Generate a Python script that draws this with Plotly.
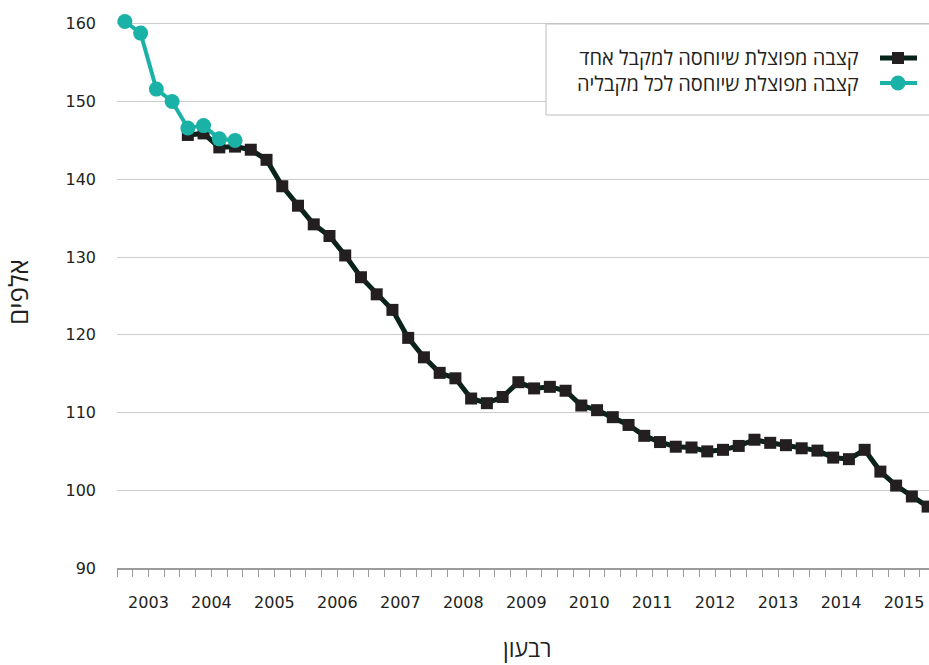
import plotly.graph_objects as go

# ---------------- data ----------------
years = list(range(2003, 2016))
quarters = [f"{y}Q{q}" for y in years for q in range(1, 5)]

# split pension attributed to all its recipients (2003Q1-2004Q4)
all_recipients = [160.3, 158.8, 151.6, 150.0, 146.6, 146.9, 145.2, 145.0]
# split pension attributed to a single recipient (2004Q1-2015Q4)
single_recipient = [
    145.7, 145.9, 144.1, 144.2,
    143.8, 142.5, 139.1, 136.6,
    134.2, 132.7, 130.2, 127.4,
    125.2, 123.2, 119.6, 117.1,
    115.1, 114.4, 111.8, 111.2,
    112.0, 113.9, 113.1, 113.3,
    112.8, 110.9, 110.3, 109.4,
    108.4, 107.0, 106.2, 105.6,
    105.5, 105.0, 105.2, 105.7,
    106.5, 106.1, 105.8, 105.4,
    105.1, 104.2, 104.0, 105.2,
    102.4, 100.6, 99.2, 97.9,
]
y_ticks = [90, 100, 110, 120, 130, 140, 150, 160]
name_single = "קצבה מפוצלת שיוחסה למקבל אחד"
name_all = "קצבה מפוצלת שיוחסה לכל מקבליה"
y_title = "אלפים"
x_title = "רבעון"

# ---------------- layout constants ----------------
W, H = 929, 665
L, R, T, B = 117, 929, 16, 568
TEAL = "#1ab2a6"
DARK_LINE = "#07231a"
DARK_MARK = "#231f20"
TEXT = "#231f20"
AXIS = "#9b9b9b"
GRID = "#cbcbcb"
FONT = "Open Sans, DejaVu Sans, sans-serif"
TICKFONT = "DejaVu Sans, sans-serif"

x_all = list(range(len(quarters)))
x_single = x_all[len(quarters) - len(single_recipient):]
x_teal = x_all[:len(all_recipients)]

fig = go.Figure()
fig.add_trace(go.Scatter(
    x=x_single, y=single_recipient, mode="lines+markers", name=name_single,
    line=dict(color=DARK_LINE, width=5),
    marker=dict(symbol="square", size=12, color=DARK_MARK),
    cliponaxis=False, showlegend=False,
))
fig.add_trace(go.Scatter(
    x=x_teal, y=all_recipients, mode="lines+markers", name=name_all,
    line=dict(color=TEAL, width=4),
    marker=dict(symbol="circle", size=15, color=TEAL),
    cliponaxis=False, showlegend=False,
))

year_centers = [4 * i + 1.5 for i in range(len(years))]
year_bounds = [4 * i - 0.5 for i in range(len(years) + 1)]
quarter_bounds = [i - 0.5 for i in range(len(quarters) + 1)]
xrange = [-0.5, -0.5 + (R - L) / 15.74]

fig.update_layout(
    width=W, height=H,
    margin=dict(l=L, r=W - R, t=T, b=H - B, autoexpand=False),
    paper_bgcolor="white", plot_bgcolor="white",
    font=dict(family=FONT, color=TEXT, size=17),
    showlegend=False,
    xaxis=dict(
        range=xrange, showgrid=False, zeroline=False,
        showline=True, linecolor=AXIS, linewidth=1.5,
        tickmode="array", tickvals=year_centers, ticktext=[str(y) for y in years],
        ticks="", ticklabelstandoff=19,
        tickfont=dict(size=16, color=TEXT, family=TICKFONT),
        minor=dict(tickmode="array", tickvals=quarter_bounds, ticks="outside",
                   ticklen=7, tickcolor=AXIS, tickwidth=1, showgrid=False),
        automargin=False,
    ),
    xaxis2=dict(
        range=xrange, overlaying="x", anchor="y", side="bottom",
        showgrid=False, zeroline=False, showline=False,
        tickmode="array", tickvals=year_bounds, ticks="outside",
        ticklen=13, tickcolor=AXIS, tickwidth=1, showticklabels=False,
    ),
    yaxis=dict(
        range=[90, 161], showgrid=True, gridcolor=GRID, gridwidth=1.2,
        zeroline=False, showline=False,
        tickmode="array", tickvals=y_ticks, ticks="", ticklabelstandoff=20,
        tickfont=dict(size=16, color=TEXT, family=TICKFONT),
        title=dict(text=y_title, font=dict(size=26, color=TEXT), standoff=30),
        automargin=False,
    ),
)


def px(xp):
    return (xp - L) / (R - L)


def py(yp):
    return (B - yp) / (B - T)


# ---------------- manual right-to-left legend ----------------
shapes = [
    dict(type="rect", xref="paper", yref="paper",
         x0=px(546), x1=px(945), y0=py(115), y1=py(24),
         line=dict(color="#bdbdbd", width=1), fillcolor="white", layer="above"),
    dict(type="line", xref="paper", yref="paper",
         x0=px(880), x1=px(917), y0=py(58), y1=py(58),
         line=dict(color=DARK_LINE, width=5), layer="above"),
    dict(type="rect", xref="paper", yref="paper",
         x0=px(892), x1=px(904), y0=py(64), y1=py(52),
         line=dict(width=0), fillcolor=DARK_MARK, layer="above"),
    dict(type="line", xref="paper", yref="paper",
         x0=px(880), x1=px(917), y0=py(83), y1=py(83),
         line=dict(color=TEAL, width=4), layer="above"),
    dict(type="circle", xref="paper", yref="paper",
         x0=px(890.5), x1=px(905.5), y0=py(90.5), y1=py(75.5),
         line=dict(width=0), fillcolor=TEAL, layer="above"),
]
annotations = [
    dict(text=name_single + "<br>" + name_all, xref="paper", yref="paper",
         x=px(861), y=py(70.5), xanchor="right", yanchor="middle", align="right",
         showarrow=False, font=dict(size=20, color=TEXT, family=FONT)),
    # x-axis title
    dict(text=x_title, xref="paper", yref="paper", x=px(527), y=py(648),
         xanchor="center", yanchor="middle", showarrow=False,
         font=dict(size=23, color=TEXT, family=FONT)),
]
fig.update_layout(shapes=shapes, annotations=annotations)

fig.write_html(
    "out.html",
    config={"displayModeBar": False},
    post_script="document.body.style.margin='0';document.body.style.padding='0';",
)
